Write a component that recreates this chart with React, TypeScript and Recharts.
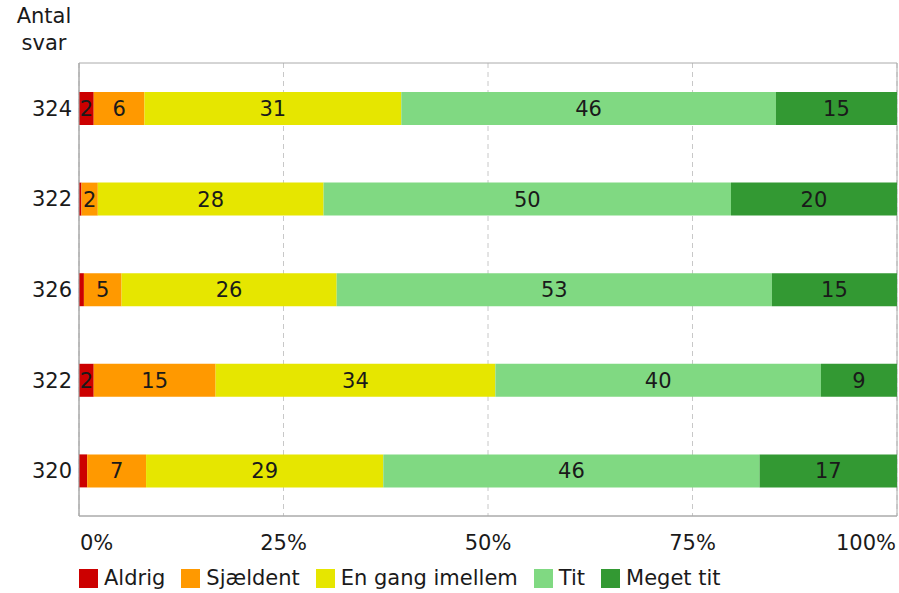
import React from "react";
import {
  BarChart,
  Bar,
  XAxis,
  YAxis,
  CartesianGrid,
  ReferenceArea,
  LabelList,
} from "recharts";

const answers = ["324", "322", "326", "322", "320"];
const aldrig = [1.8, 0.3, 0.6, 1.8, 1.0];
const sjaeldent = [6.2, 2.0, 4.6, 14.9, 7.2];
const enGang = [31.4, 27.6, 26.3, 34.2, 29.0];
const tit = [45.8, 49.8, 53.2, 39.8, 46.0];
const megetTit = [14.8, 20.3, 15.3, 9.3, 16.8];
const xTicks = [0, 25, 50, 75, 100];
const seriesNames = ["Aldrig", "Sjældent", "En gang imellem", "Tit", "Meget tit"];
const seriesKeys = ["aldrig", "sjaeldent", "enGang", "tit", "megetTit"];
const colors = ["#CC0000", "#FF9900", "#E6E600", "#80D982", "#339933"];

const data = answers.map((a, i) => ({
  idx: i,
  label: a,
  aldrig: aldrig[i],
  sjaeldent: sjaeldent[i],
  enGang: enGang[i],
  tit: tit[i],
  megetTit: megetTit[i],
}));

const FONT = "'DejaVu Sans', Verdana, sans-serif";
const FS = 21;

const XTick = (props: any) => {
  const { x, y, payload } = props;
  const v = payload.value;
  let anchor = "middle";
  let dx = 0;
  if (v === xTicks[0]) {
    anchor = "start";
    dx = 1;
  } else if (v === xTicks[xTicks.length - 1]) {
    anchor = "end";
    dx = -1;
  }
  return (
    <text x={x + dx} y={y} dy={34} textAnchor={anchor} fontSize={FS} fontFamily={FONT} fill="#1a1a1a">
      {v + "%"}
    </text>
  );
};

const fmt = (v: any) => (typeof v === "number" && v >= 1.5 ? String(Math.round(v)) : "");

export default function App() {
  return (
    <div style={{ position: "absolute", left: 0, top: 0, width: 899, height: 593, fontFamily: FONT }}>
      <div
        style={{
          position: "absolute",
          left: 4,
          top: 3,
          width: 80,
          textAlign: "center",
          fontSize: FS,
          lineHeight: "27px",
          color: "#1a1a1a",
        }}
      >
        Antal
        <br />
        svar
      </div>
      <BarChart
        width={899}
        height={593}
        layout="vertical"
        data={data}
        margin={{ top: 63, right: 2, bottom: 37, left: 0 }}
        barSize={33}
      >
        <CartesianGrid horizontal={false} vertical={true} stroke="#c8c8c8" strokeDasharray="5 4" />
        <XAxis
          type="number"
          domain={[0, 100]}
          ticks={xTicks}
          height={40}
          axisLine={{ stroke: "#aaaaaa" }}
          tickLine={false}
          tickSize={0}
          tickMargin={0}
          tick={<XTick />}
          interval={0}
        />
        <YAxis
          type="category"
          dataKey="idx"
          width={79}
          axisLine={{ stroke: "#aaaaaa" }}
          tickLine={false}
          tickSize={0}
          tickMargin={7}
          tickFormatter={(v: any) => answers[v]}
          tick={{ fontSize: FS, fontFamily: FONT, fill: "#1a1a1a" }}
        />
        {seriesKeys.map((k, i) => (
          <Bar key={k} dataKey={k} stackId="a" fill={colors[i]} name={seriesNames[i]} isAnimationActive={false}>
            <LabelList
              dataKey={k}
              position="center"
              formatter={fmt}
              style={{ fontSize: FS, fontFamily: FONT, fill: "#1a1a1a" }}
            />
          </Bar>
        ))}
        <ReferenceArea x1={0} x2={100} fill="none" stroke="#aaaaaa" strokeWidth={1} ifOverflow="visible" />
      </BarChart>
      <div
        style={{
          position: "absolute",
          left: 79,
          top: 566,
          display: "flex",
          alignItems: "center",
          fontSize: 21,
          color: "#1a1a1a",
          whiteSpace: "nowrap",
        }}
      >
        {seriesNames.map((n, i) => (
          <div key={n} style={{ display: "flex", alignItems: "center", marginRight: 16 }}>
            <div style={{ width: 19, height: 19, background: colors[i], marginRight: 6 }} />
            <span>{n}</span>
          </div>
        ))}
      </div>
    </div>
  );
}
